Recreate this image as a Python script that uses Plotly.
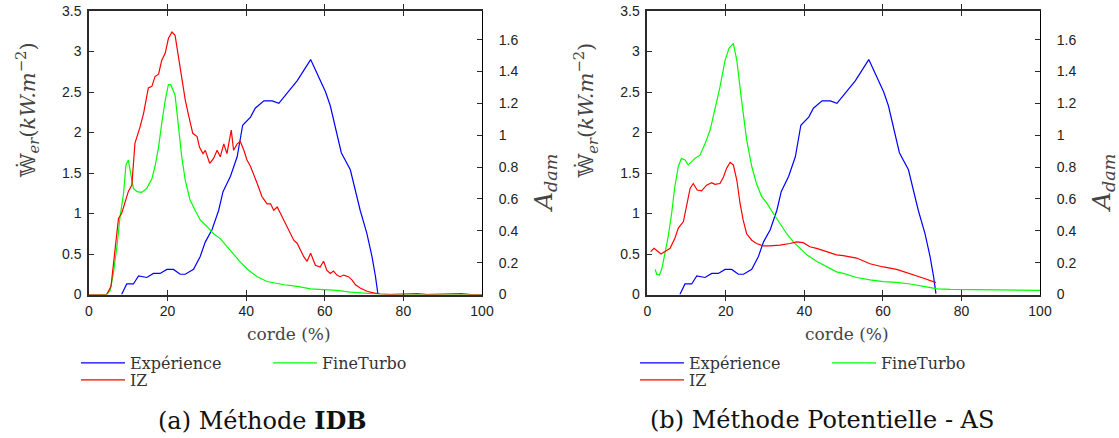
import plotly.graph_objects as go

W, H = 1119, 438

# ---------------- data ----------------
# Experiment (same in both panels)
exp_x = [8.3, 9.6, 11.3, 12.6, 14.7, 16.4, 18.1, 19.8, 21.5, 23.2, 24.5, 26.6, 28.3, 29.6, 31.3,
         33.0, 34.1, 36.0, 37.7, 39.1, 41.1, 42.3, 44.5, 46.6, 48.3, 49.6, 51.3, 53.0, 56.4,
         58.5, 60.2, 61.4, 62.7, 64.2, 66.5, 67.8, 69.0, 70.7, 72.0, 72.9, 73.5]
exp_y = [0.0, 0.13, 0.13, 0.23, 0.21, 0.26, 0.26, 0.31, 0.31, 0.25, 0.25, 0.31, 0.47, 0.65, 0.80,
         1.04, 1.27, 1.46, 1.70, 2.09, 2.19, 2.30, 2.39, 2.39, 2.36, 2.44, 2.53, 2.64, 2.90,
         2.69, 2.50, 2.33, 2.07, 1.75, 1.54, 1.29, 1.04, 0.755, 0.47, 0.22, 0.01]

# (a) IZ
iz_a_x = [0, 4.5, 5.6, 6.6, 7.5, 8.3, 9.2, 10.0, 10.9, 11.7, 13.0, 13.9, 15.1, 16.0, 16.8, 17.7,
          18.5, 19.4, 20.2, 21.1, 21.9, 22.8, 23.6, 24.5, 25.3, 26.4, 27.5, 28.1, 29.0, 29.6,
          30.7, 31.7, 32.6, 33.4, 34.3, 35.1, 36.2, 36.8, 37.7, 38.5, 39.4, 40.2, 41.1, 41.9,
          42.8, 44.0, 45.3, 46.2, 47.0, 47.9, 48.7, 49.6, 50.9, 52.1, 53.0, 53.8, 54.6, 55.5,
          56.4, 57.6, 58.8, 59.7, 60.5, 61.4, 62.2, 63.1, 63.9, 64.8, 66.0, 66.9, 67.8, 69.0,
          70.7, 72.4, 74.1, 76.7, 83.5, 86.0, 94.7, 97.2, 100]
iz_a_y = [0, 0, 0.10, 0.51, 0.94, 1.00, 1.15, 1.27, 1.35, 1.87, 2.07, 2.24, 2.55, 2.57, 2.69, 2.72,
          2.89, 2.98, 3.16, 3.24, 3.20, 2.92, 2.65, 2.40, 2.22, 1.99, 1.95, 1.82, 1.74, 1.78,
          1.62, 1.68, 1.78, 1.70, 1.86, 1.74, 2.03, 1.78, 1.86, 1.89, 1.78, 1.66, 1.58, 1.49,
          1.37, 1.21, 1.12, 1.12, 1.04, 1.08, 1.00, 0.92, 0.80, 0.67, 0.63, 0.55, 0.47, 0.41,
          0.51, 0.36, 0.34, 0.41, 0.30, 0.26, 0.29, 0.24, 0.22, 0.24, 0.22, 0.18, 0.12, 0.08,
          0.04, 0.02, 0.006, 0.0, 0.01, 0.0, 0.01, 0.0, 0.0]

# (a) FineTurbo
ft_a_x = [0, 4.5, 5.4, 6.2, 7.1, 7.9, 8.8, 9.4, 10.0, 10.7, 11.3, 12.2, 13.4, 14.7, 16.0, 16.8,
          17.7, 18.5, 19.4, 20.2, 20.8, 21.9, 22.8, 23.6, 24.5, 25.7, 27.0, 28.3, 30.0, 31.7,
          33.4, 35.1, 36.8, 38.5, 40.6, 42.8, 45.3, 47.5, 49.6, 53.0, 56.4, 59.7, 63.1, 66.5,
          69.9, 73.3, 80.0, 100]
ft_a_y = [0, 0.0, 0.05, 0.26, 0.59, 0.96, 1.25, 1.60, 1.66, 1.45, 1.31, 1.27, 1.26, 1.31, 1.43, 1.58,
          1.82, 2.11, 2.40, 2.59, 2.59, 2.46, 2.07, 1.70, 1.41, 1.17, 1.04, 0.92, 0.84, 0.75,
          0.69, 0.59, 0.49, 0.40, 0.30, 0.22, 0.16, 0.14, 0.12, 0.10, 0.07, 0.06, 0.05, 0.03,
          0.015, 0.006, 0.002, 0.0]

# (b) IZ
iz_b_x = [0.85, 1.7, 2.5, 3.5, 4.5, 5.8, 7.0, 7.9, 9.2, 10.0, 10.9, 11.7, 12.7, 13.8, 15.1, 16.4,
          17.2, 18.5, 19.4, 20.2, 21.1, 21.9, 22.8, 23.6, 24.4, 25.3, 26.6, 27.8, 29.5, 31.2,
          33.8, 36.3, 38.0, 39.7, 41.4, 43.1, 45.7, 48.2, 49.9, 53.3, 56.7, 60.1, 63.5, 66.9,
          70.4, 73.5]
iz_b_y = [0.53, 0.57, 0.54, 0.50, 0.53, 0.57, 0.69, 0.82, 0.90, 1.08, 1.31, 1.37, 1.29, 1.28, 1.35, 1.38,
          1.36, 1.37, 1.45, 1.56, 1.63, 1.60, 1.41, 1.13, 0.92, 0.75, 0.67, 0.63, 0.60, 0.60,
          0.61, 0.63, 0.65, 0.64, 0.59, 0.57, 0.53, 0.49, 0.48, 0.45, 0.38, 0.34, 0.31, 0.26,
          0.20, 0.146]

# (b) FineTurbo
ft_b_x = [2.0, 2.4, 3.1, 3.7, 4.5, 5.3, 6.2, 7.0, 7.9, 8.7, 9.6, 10.4, 11.3, 12.1, 13.4, 14.7,
          16.0, 17.2, 18.5, 19.8, 20.8, 21.9, 22.8, 24.0, 25.3, 26.6, 27.8, 29.1, 30.4, 32.1,
          33.8, 35.5, 37.2, 38.9, 40.6, 43.1, 45.7, 48.2, 49.9, 53.3, 56.7, 60.1, 63.5, 66.9,
          70.4, 73.8, 77.2, 80.6, 89.1, 100]
ft_b_y = [0.31, 0.25, 0.24, 0.32, 0.51, 0.71, 1.00, 1.33, 1.58, 1.68, 1.66, 1.60, 1.64, 1.68, 1.72, 1.86,
          2.03, 2.28, 2.56, 2.89, 3.04, 3.10, 2.89, 2.40, 1.91, 1.58, 1.37, 1.21, 1.13, 1.00,
          0.88, 0.75, 0.65, 0.57, 0.49, 0.41, 0.34, 0.28, 0.26, 0.21, 0.18, 0.16, 0.15, 0.13,
          0.10, 0.07, 0.064, 0.06, 0.056, 0.05]

x_range = [0, 100]
y_range = [0, 3.5]
y2_range = [0, 1.78]

names = ["Expérience", "FineTurbo", "IZ"]
colors = {"Expérience": "#0000ff", "FineTurbo": "#00ff00", "IZ": "#ff0000"}
captions = ["(a) Méthode <b>IDB</b>", "(b) Méthode Potentielle - AS"]

# ---------------- figure ----------------
def px_x(p):
    return p / W

def px_y(p):
    return 1 - p / H

fig = go.Figure()

panels = [
    dict(xa="x", ya="y", ya2="y3", data={"Expérience": (exp_x, exp_y), "FineTurbo": (ft_a_x, ft_a_y), "IZ": (iz_a_x, iz_a_y)},
         legends=["legend", "legend2", "legend3"]),
    dict(xa="x2", ya="y2", ya2="y4", data={"Expérience": (exp_x, exp_y), "FineTurbo": (ft_b_x, ft_b_y), "IZ": (iz_b_x, iz_b_y)},
         legends=["legend4", "legend5", "legend6"]),
]

for p in panels:
    for nm, lg in zip(names, p["legends"]):
        xs, ys = p["data"][nm]
        fig.add_trace(go.Scatter(x=xs, y=ys, mode="lines", name=nm, xaxis=p["xa"], yaxis=p["ya"],
                                 line=dict(color=colors[nm], width=1.2), legend=lg))
    fig.add_trace(go.Scatter(x=[None], y=[None], mode="lines", xaxis=p["xa"], yaxis=p["ya2"],
                             showlegend=False, hoverinfo="skip"))

frame_col = "#2b2b2b"
tick_font = dict(family="Liberation Sans, Arial, sans-serif", size=14, color="#222222")

plot_left = [89, 647.3]
plot_right = [482, 1040]
plot_top, plot_bot = 11, 294.5
ydom = [px_y(plot_bot), px_y(plot_top)]

def xaxis_cfg(i):
    return dict(domain=[px_x(plot_left[i]), px_x(plot_right[i])], range=x_range, dtick=20,
                showgrid=False, zeroline=False, showline=True, linecolor=frame_col, linewidth=1.5,
                mirror="allticks", ticks="inside", ticklen=5, tickcolor=frame_col, tickwidth=1,
                tickfont=tick_font, ticklabelstandoff=3, automargin=False)

def yaxis_cfg(xa):
    return dict(domain=ydom, anchor=xa, range=y_range, dtick=0.5, showgrid=False, zeroline=False,
                showline=True, linecolor=frame_col, linewidth=1.5, ticks="inside", ticklen=5,
                tickcolor=frame_col, tickwidth=1, tickfont=tick_font, ticklabelstandoff=3,
                automargin=False)

def y2axis_cfg(xa, over):
    return dict(domain=ydom, anchor=xa, overlaying=over, side="right", range=y2_range, dtick=0.2,
                showgrid=False, zeroline=False, showline=True, linecolor="#000000", linewidth=1,
                ticks="inside", ticklen=5, tickcolor=frame_col, tickwidth=1, tickfont=tick_font,
                ticklabelstandoff=13, automargin=False)

serif = "DejaVu Serif, Liberation Serif, serif"
leg_font = dict(family=serif, size=16, color="#333333")

def legend_cfg(xp, yp):
    return dict(x=px_x(xp), y=px_y(yp), xanchor="left", yanchor="middle", bgcolor="rgba(0,0,0,0)",
                borderwidth=0, font=leg_font, itemwidth=44, tracegroupgap=0)

# legend anchor positions (px) for each entry
leg_pos = {
    "legend": (76, 363), "legend2": (268, 363), "legend3": (76, 380),
    "legend4": (635, 363), "legend5": (827, 363), "legend6": (635, 380),
}

layout = dict(
    width=W, height=H, autosize=False, margin=dict(l=0, r=0, t=0, b=0, pad=0, autoexpand=False),
    paper_bgcolor="white", plot_bgcolor="white",
    xaxis=xaxis_cfg(0), xaxis2=xaxis_cfg(1),
    yaxis=yaxis_cfg("x"), yaxis2=yaxis_cfg("x2"),
    yaxis3=y2axis_cfg("x", "y"), yaxis4=y2axis_cfg("x2", "y2"),
    showlegend=True,
)
for k, (lx, ly) in leg_pos.items():
    layout[k] = legend_cfg(lx, ly)

fig.update_layout(**layout)

title_col = "#444444"
ann = []
for i in range(2):
    cx = (plot_left[i] + plot_right[i]) / 2 + 3
    ann.append(dict(text="corde (%)", x=px_x(cx), y=px_y(334), xref="paper", yref="paper",
                    showarrow=False, xanchor="center", yanchor="middle",
                    font=dict(family=serif, size=17, color=title_col)))
    ann.append(dict(text="𝕎̇<sub><i>er</i></sub>(<i>kW.m</i><sup>−2</sup>)", x=px_x(plot_left[i] - 62), y=px_y(110),
                    xref="paper", yref="paper", showarrow=False, textangle=-90,
                    xanchor="center", yanchor="middle",
                    font=dict(family=serif, size=21, color=title_col)))
    ann.append(dict(text="<i>A</i><sub><i>dam</i></sub>", x=px_x(plot_right[i] + 63), y=px_y(183),
                    xref="paper", yref="paper", showarrow=False, textangle=-90,
                    xanchor="center", yanchor="middle",
                    font=dict(family=serif, size=25, color=title_col)))
    ann.append(dict(text=captions[i], x=px_x(262 + 560 * i), y=px_y(420), xref="paper", yref="paper",
                    showarrow=False, xanchor="center", yanchor="middle",
                    font=dict(family=serif, size=24, color="#111111")))
fig.update_layout(annotations=ann)

fig.write_html("out.html",
               config={"responsive": False, "displayModeBar": False},
               post_script="document.body.style.margin='0px';document.body.style.overflow='hidden';")
